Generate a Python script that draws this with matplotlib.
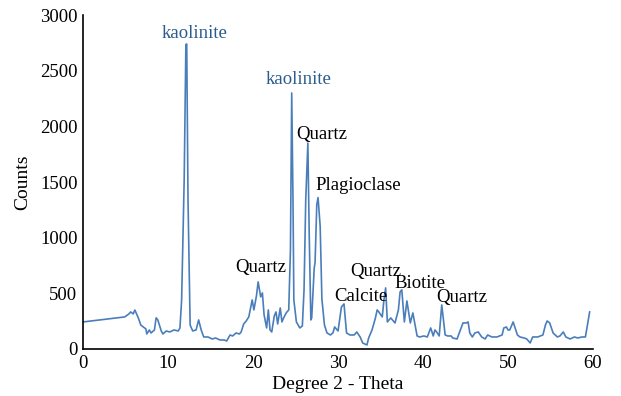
import matplotlib
matplotlib.use("Agg")
import matplotlib.pyplot as plt

# XRD pattern
two_theta = [0, 4.9, 5.4, 5.6, 5.9, 6.1, 6.5, 6.8, 7.1, 7.4, 7.5, 7.8, 8.0, 8.4, 8.6, 8.8,
             9.2, 9.4, 9.8, 10.2, 10.7, 11.2, 11.4, 11.6, 11.9, 12.1, 12.2, 12.35, 12.6, 12.9,
             13.3, 13.6, 13.9, 14.2, 14.7, 15.2, 15.6, 16.1, 16.6, 16.9, 17.3, 17.6, 18.0, 18.4,
             18.6, 18.9, 19.2, 19.5, 19.9, 20.1, 20.4, 20.6, 20.9, 21.1, 21.3, 21.6, 21.8, 22.0,
             22.2, 22.5, 22.7, 22.9, 23.2, 23.4, 23.6, 23.9, 24.2, 24.4, 24.55, 24.7, 24.8, 25.1,
             25.3, 25.5, 25.8, 26.0, 26.2, 26.45, 26.6, 26.8, 26.9, 27.2, 27.3, 27.5, 27.65, 27.9,
             28.1, 28.4, 28.7, 29.1, 29.4, 29.6, 30.0, 30.4, 30.7, 31.0, 31.4, 31.9, 32.2, 32.6,
             32.9, 33.4, 33.6, 34.0, 34.4, 34.6, 34.8, 35.2, 35.4, 35.6, 35.8, 36.2, 36.7, 37.1,
             37.3, 37.5, 37.8, 38.1, 38.5, 38.8, 39.3, 39.6, 40.1, 40.5, 40.9, 41.2, 41.4, 41.6,
             41.9, 42.2, 42.6, 42.9, 43.3, 43.5, 44.0, 44.4, 44.7, 45.1, 45.3, 45.5, 45.8, 46.1,
             46.5, 46.9, 47.3, 47.6, 48.1, 48.7, 49.3, 49.5, 49.8, 50.0, 50.2, 50.6, 51.1, 51.4,
             51.9, 52.2, 52.6, 52.9, 53.5, 54.1, 54.4, 54.6, 54.9, 55.3, 55.8, 56.1, 56.5, 56.8,
             57.3, 57.8, 58.2, 58.7, 59.1, 59.3, 59.6]
counts = [243, 288, 315, 333, 315, 350, 280, 215, 198, 180, 135, 171, 144, 171, 280, 261,
          162, 135, 162, 153, 171, 162, 189, 440, 1520, 2735, 2740, 1340, 216, 162,
          171, 261, 171, 108, 108, 90, 99, 81, 81, 72, 126, 117, 144, 135,
          153, 225, 252, 288, 441, 351, 477, 603, 468, 504, 306, 189, 351, 171,
          153, 297, 333, 225, 369, 243, 279, 324, 351, 890, 2300, 1340, 441, 243,
          216, 189, 207, 530, 1340, 1850, 1070, 261, 279, 729, 780, 1300, 1360, 1100,
          450, 216, 144, 126, 144, 198, 162, 378, 405, 144, 126, 126, 153, 108,
          54, 36, 99, 171, 279, 351, 333, 288, 441, 549, 243, 279, 234, 351,
          513, 531, 243, 432, 234, 324, 117, 108, 117, 108, 189, 117, 171, 153,
          117, 396, 126, 117, 117, 99, 90, 171, 234, 234, 243, 144, 108, 144,
          153, 108, 90, 126, 108, 108, 126, 189, 198, 171, 171, 243, 126, 108,
          99, 90, 54, 108, 108, 126, 216, 252, 234, 144, 108, 117, 153, 108,
          90, 108, 99, 108, 108, 198, 333]

# peak labels: text, x, y, alignment, colour
label_text = ["kaolinite", "kaolinite", "Quartz", "Plagioclase", "Quartz",
              "Calcite", "Quartz", "Biotite", "Quartz"]
label_x = [13.1, 25.3, 25.1, 27.3, 20.9, 29.6, 31.4, 36.6, 41.6]
label_y = [2830, 2420, 1930, 1470, 730, 475, 700, 585, 460]
label_ha = ["center", "center", "left", "left", "center", "left", "left", "left", "left"]
label_col = ["#2b5d8c", "#2b5d8c"] + ["black"] * 7

plt.rcParams['font.family'] = ['Liberation Serif', 'DejaVu Serif']

fig = plt.figure(figsize=(6.21, 3.96), dpi=100)
ax = fig.add_axes([0.1337, 0.1187, 0.955 - 0.1337, 0.962 - 0.1187])

ax.plot(two_theta, counts, color="#4a7ebb", linewidth=1.2)

for t, x, y, ha, c in zip(label_text, label_x, label_y, label_ha, label_col):
    ax.text(x, y, t, ha=ha, va="center", fontsize=13.5, color=c)

ax.set_xlim(0, 60)
ax.set_ylim(0, 3000)
ax.set_xticks([0, 10, 20, 30, 40, 50, 60])
ax.set_yticks([0, 500, 1000, 1500, 2000, 2500, 3000])
ax.tick_params(length=0, labelsize=13.5, pad=4)
ax.spines['top'].set_visible(False)
ax.spines['right'].set_visible(False)
ax.spines['left'].set_linewidth(1.2)
ax.spines['bottom'].set_linewidth(1.2)

ax.set_xlabel("Degree 2 - Theta", fontsize=14, labelpad=3)
ax.set_ylabel("Counts", fontsize=14, labelpad=6)

fig.savefig("out.png", dpi=100)
